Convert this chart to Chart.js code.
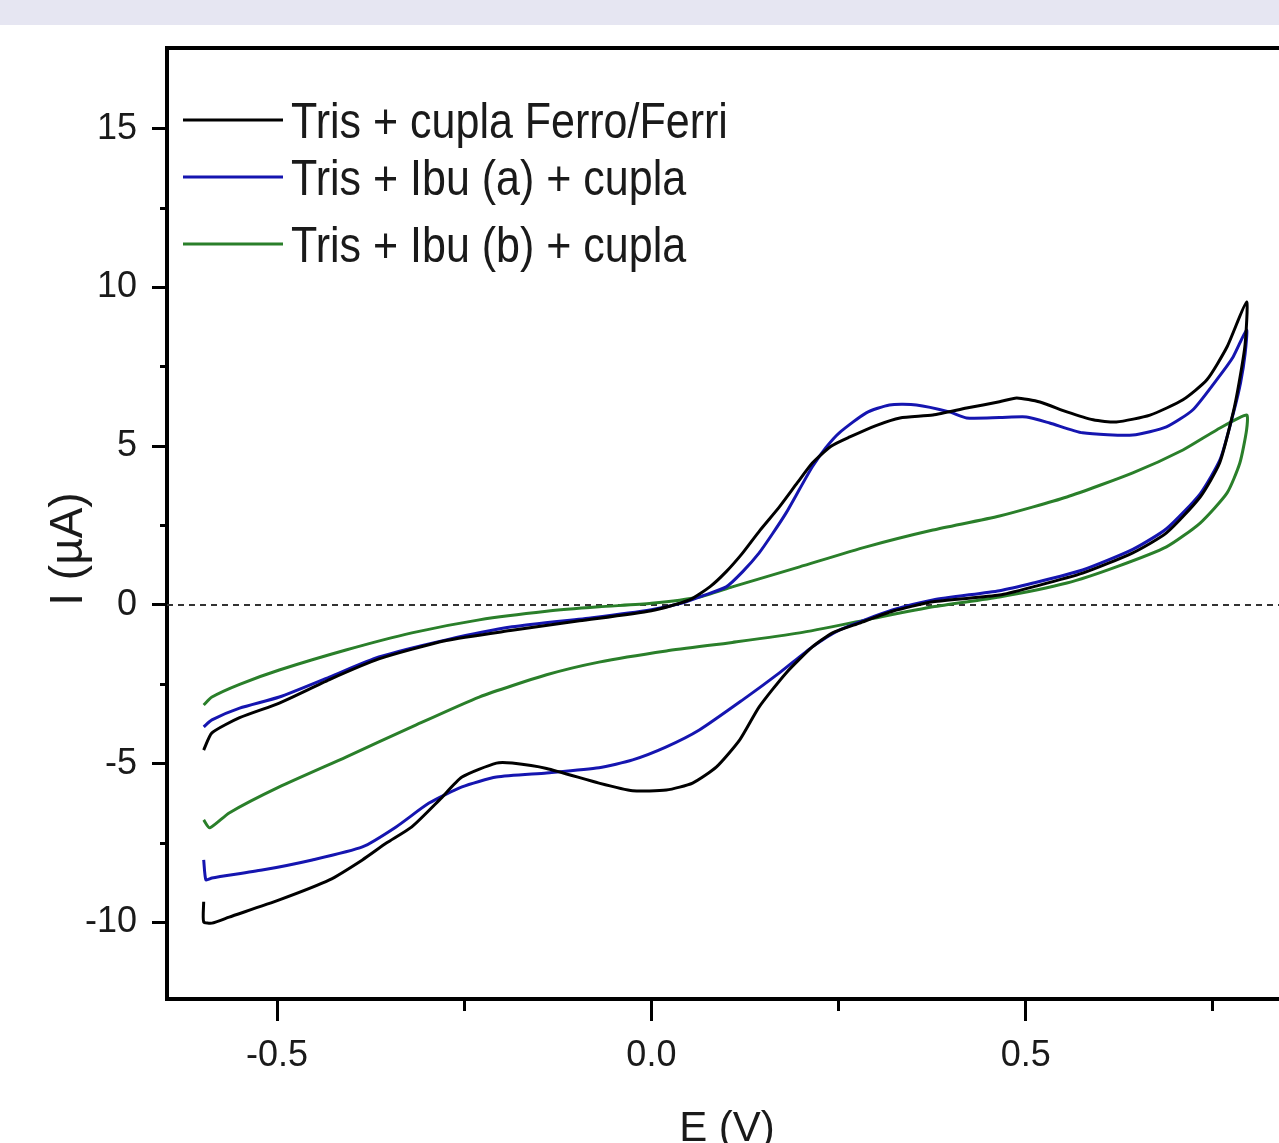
<!DOCTYPE html>
<html>
<head>
<meta charset="utf-8">
<script src="https://cdn.jsdelivr.net/npm/chart.js@4.4.1/dist/chart.umd.min.js"></script>
<style>
  html, body { margin: 0; padding: 0; background: #fff; overflow: hidden; width: 1279px; height: 1143px; }
  #band { position: absolute; left: 0; top: 0; width: 1279px; height: 25px; background: #e6e6f2; }
  #cv { position: absolute; left: 0; top: 0; }
</style>
</head>
<body>
<div id="band"></div>
<canvas id="cv" width="1300" height="1170"></canvas>
<script>
// ================= DATA =================
const seriesLabels = ["Tris + cupla Ferro/Ferri", "Tris + Ibu (a) + cupla", "Tris + Ibu (b) + cupla"];

// black: forward scan then reverse scan
const ferriE = [-0.598, -0.587, -0.55, -0.497, -0.43, -0.364, -0.274, -0.186, -0.096, 0.0, 0.05, 0.078, 0.10, 0.122, 0.145, 0.171, 0.195, 0.215, 0.24, 0.265, 0.30, 0.332, 0.376, 0.421, 0.465, 0.488, 0.519, 0.555, 0.59, 0.621, 0.666, 0.71, 0.742, 0.769, 0.795,
  0.793, 0.785, 0.777, 0.759, 0.733, 0.688, 0.643, 0.576, 0.51, 0.465, 0.376, 0.322, 0.278, 0.242, 0.215, 0.18, 0.144, 0.118, 0.087, 0.055, 0.02, -0.025, -0.07, -0.14, -0.186, -0.207, -0.253, -0.283, -0.32, -0.354, -0.386, -0.43, -0.497, -0.564, -0.587, -0.598, -0.598];
const ferriI = [-4.57, -4.03, -3.55, -3.09, -2.35, -1.70, -1.12, -0.80, -0.50, -0.18, 0.15, 0.57, 1.05, 1.64, 2.35, 3.09, 3.85, 4.47, 5.0, 5.29, 5.65, 5.89, 5.98, 6.20, 6.40, 6.52, 6.39, 6.08, 5.83, 5.76, 5.98, 6.46, 7.09, 8.13, 9.54,
  8.2, 7.0, 6.05, 4.47, 3.40, 2.27, 1.64, 1.0, 0.57, 0.31, 0.10, -0.20, -0.57, -0.88, -1.32, -2.14, -3.21, -4.25, -5.10, -5.61, -5.83, -5.85, -5.61, -5.15, -4.98, -4.98, -5.42, -6.14, -6.99, -7.50, -8.03, -8.66, -9.29, -9.83, -10.02, -9.98, -9.35];

// blue
const ibuAE = [-0.598, -0.587, -0.55, -0.497, -0.43, -0.364, -0.274, -0.186, -0.079, 0.0, 0.041, 0.07, 0.10, 0.122, 0.144, 0.162, 0.18, 0.198, 0.215, 0.233, 0.251, 0.287, 0.318, 0.354, 0.398, 0.421, 0.465, 0.501, 0.532, 0.576, 0.643, 0.688, 0.723, 0.755, 0.777, 0.795,
  0.793, 0.787, 0.778, 0.76, 0.733, 0.688, 0.643, 0.576, 0.51, 0.465, 0.376, 0.322, 0.251, 0.215, 0.171, 0.122, 0.064, 0.02, -0.025, -0.07, -0.14, -0.207, -0.253, -0.297, -0.341, -0.386, -0.453, -0.52, -0.587, -0.595, -0.598];
const ibuAI = [-3.84, -3.62, -3.25, -2.90, -2.27, -1.64, -1.10, -0.69, -0.40, -0.15, 0.06, 0.30, 0.57, 1.05, 1.64, 2.25, 2.90, 3.65, 4.35, 4.95, 5.42, 6.05, 6.30, 6.30, 6.08, 5.89, 5.90, 5.92, 5.73, 5.42, 5.35, 5.61, 6.14, 7.09, 7.81, 8.66,
  7.9, 7.0, 6.1, 4.6, 3.5, 2.4, 1.75, 1.1, 0.69, 0.45, 0.16, -0.16, -0.79, -1.32, -2.14, -2.99, -3.94, -4.47, -4.88, -5.13, -5.29, -5.42, -5.73, -6.24, -6.99, -7.62, -8.03, -8.35, -8.60, -8.66, -8.03];

// green
const ibuBE = [-0.598, -0.587, -0.55, -0.497, -0.408, -0.32, -0.23, -0.14, -0.07, 0.0, 0.064, 0.108, 0.198, 0.287, 0.376, 0.465, 0.555, 0.643, 0.71, 0.755, 0.795,
  0.795, 0.786, 0.769, 0.733, 0.688, 0.621, 0.555, 0.465, 0.376, 0.287, 0.198, 0.108, 0.02, -0.07, -0.14, -0.23, -0.32, -0.408, -0.497, -0.564, -0.59, -0.598];
const ibuBI = [-3.15, -2.90, -2.50, -2.05, -1.42, -0.88, -0.47, -0.20, -0.06, 0.05, 0.25, 0.57, 1.2, 1.83, 2.36, 2.80, 3.40, 4.16, 4.88, 5.51, 5.98,
  5.51, 4.47, 3.53, 2.58, 1.83, 1.2, 0.69, 0.25, -0.06, -0.47, -0.88, -1.18, -1.45, -1.80, -2.20, -2.90, -3.84, -4.79, -5.73, -6.55, -7.02, -6.77];

// dotted zero reference
const zeroE = [-0.647, 0.849];
const zeroI = [0, 0];

const xRange = [-0.647, 0.849];
const yRange = [-12.41, 17.54];
const xMajorTicks = [-0.5, 0.0, 0.5];
const xMinorTicks = [-0.25, 0.25, 0.75];
const yMajorTicks = [-10, -5, 0, 5, 10, 15];
const yMinorTicks = [-7.5, -2.5, 2.5, 7.5, 12.5];

// ================= HELPERS =================
const FONT = "'Liberation Sans', Arial, sans-serif";
const INK = "#1a1a1a";

function pts(E, I) {
  return E.map((e, i) => ({ x: e, y: I[i] }));
}

function fixTicks(list) {
  return scale => { scale.ticks = list.map(v => ({ value: v })); };
}

// legend drawn inside the plot, like the original
const legendRows = [120, 177, 244];
const inlineLegend = {
  id: "inlineLegend",
  afterDraw(chart) {
    const ctx = chart.ctx;
    ctx.save();
    legendRows.forEach((y, i) => {
      const ds = chart.data.datasets[i];
      ctx.strokeStyle = ds.borderColor;
      ctx.lineWidth = 3;
      ctx.beginPath();
      ctx.moveTo(183, y);
      ctx.lineTo(283, y);
      ctx.stroke();

      ctx.save();
      ctx.translate(291, y + 18);
      ctx.scale(0.86, 1);
      ctx.font = "50px " + FONT;
      ctx.fillStyle = INK;
      ctx.textBaseline = "alphabetic";
      ctx.fillText(ds.label, 0, 0);
      ctx.restore();
    });
    ctx.restore();
  }
};

const lineStyle = { showLine: true, pointRadius: 0, borderWidth: 3, tension: 0.2, fill: false };

// ================= CHART =================
new Chart(document.getElementById("cv"), {
  type: "scatter",
  data: {
    datasets: [
      { ...lineStyle, label: seriesLabels[0], data: pts(ferriE, ferriI), borderColor: "#000000" },
      { ...lineStyle, label: seriesLabels[1], data: pts(ibuAE, ibuAI), borderColor: "#1515b0" },
      { ...lineStyle, label: seriesLabels[2], data: pts(ibuBE, ibuBI), borderColor: "#2a7f2a" },
      { showLine: true, pointRadius: 0, label: "zero", data: pts(zeroE, zeroI), borderColor: "#333", borderWidth: 2, borderDash: [6, 5] }
    ]
  },
  options: {
    responsive: false,
    animation: false,
    layout: { padding: { top: 48, right: 13, left: 0, bottom: 0 } },
    plugins: { legend: { display: false }, tooltip: { enabled: false } },
    scales: {
      x: {
        type: "linear", position: "bottom", weight: 1,
        min: xRange[0], max: xRange[1],
        afterBuildTicks: fixTicks(xMajorTicks),
        afterFit: s => { s.height = 1170 - 999; },
        grid: { drawOnChartArea: false, tickLength: 22, tickWidth: 3, tickColor: "#000" },
        border: { color: "#000", width: 4 },
        ticks: { color: INK, font: { family: FONT, size: 36 }, padding: 13, maxRotation: 0, autoSkip: false, callback: v => v.toFixed(1) },
        title: { display: true, text: "E (V)", color: INK, font: { family: FONT, size: 42 }, padding: { top: 0, bottom: 15 } }
      },
      xMinor: {
        type: "linear", position: "bottom", weight: 0,
        min: xRange[0], max: xRange[1],
        afterBuildTicks: fixTicks(xMinorTicks),
        afterFit: s => { s.height = 0; },
        grid: { drawOnChartArea: false, tickLength: 12, tickWidth: 3, tickColor: "#000" },
        border: { display: false },
        ticks: { display: false }
      },
      xTop: {
        type: "linear", position: "top",
        min: xRange[0], max: xRange[1],
        afterFit: s => { s.height = 0; },
        grid: { display: false },
        border: { color: "#000", width: 4 },
        ticks: { display: false }
      },
      y: {
        type: "linear", position: "left", weight: 1,
        min: yRange[0], max: yRange[1],
        afterBuildTicks: fixTicks(yMajorTicks),
        afterFit: s => { s.width = 167; },
        grid: { drawOnChartArea: false, tickLength: 15, tickWidth: 3, tickColor: "#000" },
        border: { color: "#000", width: 4 },
        ticks: { color: INK, font: { family: FONT, size: 36 }, padding: 15, callback: v => String(v) },
        title: { display: true, text: "I (\u00b5A)    ", color: INK, font: { family: FONT, size: 46 }, padding: { top: 42, bottom: 0 } }
      },
      yMinor: {
        type: "linear", position: "left", weight: 0,
        min: yRange[0], max: yRange[1],
        afterBuildTicks: fixTicks(yMinorTicks),
        afterFit: s => { s.width = 0; },
        grid: { drawOnChartArea: false, tickLength: 7, tickWidth: 3, tickColor: "#000" },
        border: { display: false },
        ticks: { display: false }
      }
    }
  },
  plugins: [inlineLegend]
});
</script>
</body>
</html>
